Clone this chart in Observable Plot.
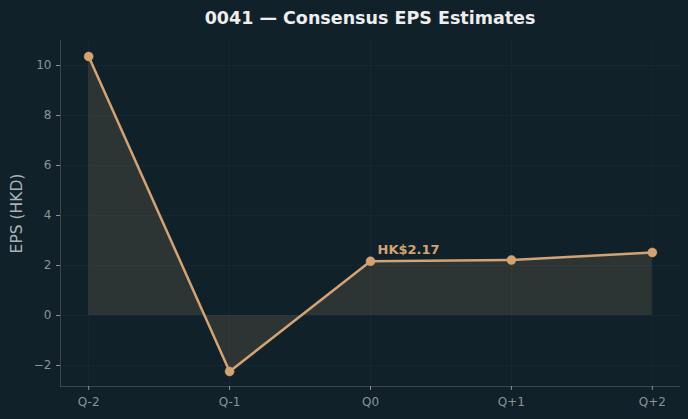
<!DOCTYPE html>
<html><head><meta charset="utf-8">
<script src="https://cdn.jsdelivr.net/npm/d3@7"></script>
<script src="https://cdn.jsdelivr.net/npm/@observablehq/plot@0.6"></script>
<style>
html,body{margin:0;padding:0;background:#10212a;width:688px;height:419px;overflow:hidden;font-family:"DejaVu Sans",sans-serif;}
#title{height:40px;box-sizing:border-box;padding-left:52px;padding-top:6px;text-align:center;color:#eeeeee;font-weight:bold;font-size:17.5px;line-height:24px;}
#chart svg{display:block;}
</style>
</head><body>
<div id="title">0041 — Consensus EPS Estimates</div>
<div id="chart"></div>
<script>
const quarters = ["Q-2", "Q-1", "Q0", "Q+1", "Q+2"];
const eps = [10.36, -2.24, 2.17, 2.22, 2.52];
const yTicks = [-2, 0, 2, 4, 6, 8, 10];
const annotationText = "HK$2.17";
const annotationIndex = 2;

const data = quarters.map((q, i) => ({i, q, v: eps[i]}));
const tan = "#d4a373";
const xDom = [-0.2, 4.2];
const yDom = [-2.84, 11.0];

const plot = Plot.plot({
  width: 688,
  height: 379,
  marginLeft: 60,
  marginRight: 8,
  marginTop: 0,
  marginBottom: 33,
  style: {background: "#10212a", fontFamily: "DejaVu Sans, sans-serif"},
  x: {domain: xDom, axis: null},
  y: {domain: yDom, axis: null},
  marks: [
    Plot.gridY(yTicks, {stroke: "#192a33", strokeOpacity: 1, strokeWidth: 0.8}),
    Plot.gridX([0,1,2,3,4], {stroke: "#192a33", strokeOpacity: 1, strokeWidth: 0.8}),
    Plot.areaY(data, {x: "i", y1: 0, y2: "v", fill: tan, fillOpacity: 0.15}),
    Plot.lineY(data, {x: "i", y: "v", stroke: tan, strokeWidth: 2.5}),
    Plot.dot(data, {x: "i", y: "v", r: 4.5, fill: tan, stroke: tan, strokeWidth: 0.5}),
    Plot.text([data[annotationIndex]], {x: "i", y: "v", text: () => annotationText, dx: 7, dy: -11, textAnchor: "start", fill: tan, fontWeight: "bold", fontSize: 13}),
    Plot.ruleX([xDom[0]], {stroke: "#3d474b", strokeWidth: 1}),
    Plot.ruleY([yDom[0]], {stroke: "#3d474b", strokeWidth: 1}),
    Plot.axisY(yTicks, {tickSize: 4, tickPadding: 5, stroke: "#8a9499", color: "#8a9499", fontSize: 12, tickFormat: d => d < 0 ? "\u2212" + Math.abs(d) : String(d), label: null}),
    Plot.axisX([0,1,2,3,4], {tickSize: 4, tickPadding: 7, stroke: "#8a9499", color: "#8a9499", fontSize: 12, tickFormat: d => quarters[d], label: null}),
    Plot.text(["EPS (HKD)"], {frameAnchor: "left", textAnchor: "middle", dx: -43, rotate: -90, fill: "#aab3b7", fontSize: 15.5})
  ]
});
document.getElementById("chart").appendChild(plot);
</script>
</body></html>
